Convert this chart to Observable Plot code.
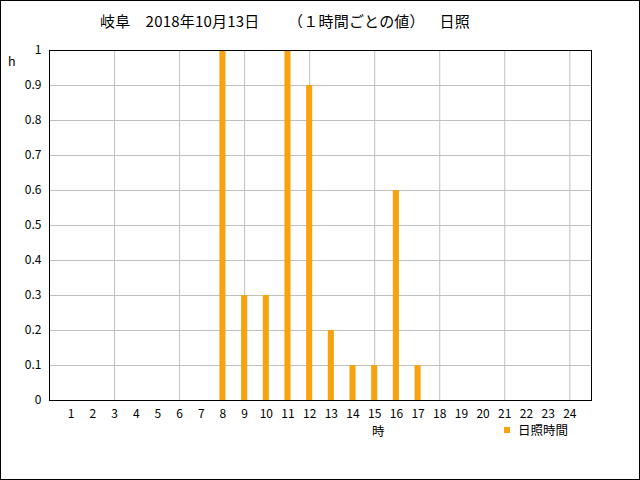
<!DOCTYPE html>
<html><head><meta charset="utf-8">
<script src="https://cdn.jsdelivr.net/npm/d3@7"></script>
<script src="https://cdn.jsdelivr.net/npm/@observablehq/plot@0.6"></script>
<style>
body{margin:0;background:#fff;}
#wrap{position:relative;width:640px;height:480px;overflow:hidden;font-family:"Noto Sans CJK JP",sans-serif;}
#wrap::after{content:"";position:absolute;left:0;top:0;right:0;bottom:0;border:1px solid #000;box-sizing:border-box;pointer-events:none;}
.lbl{position:absolute;font-size:13px;color:#000;white-space:nowrap;line-height:1;}
#title{left:100px;top:13px;font-size:15px;letter-spacing:0.2px;}
#legend{left:504px;top:424px;font-size:12.5px;}
#legend span.sw{display:inline-block;width:6px;height:6px;background:#f7a30f;margin-right:8px;vertical-align:middle;position:relative;top:-2px;}
</style></head>
<body><div id="wrap">
<div class="lbl" id="title">岐阜　2018年10月13日　<span style="margin-left:21px">（１時間ごとの値）</span>　<span style="margin-left:7px">日照</span></div>
<div class="lbl" style="left:8px;top:55px;font-size:12.5px;">h</div>
<div class="lbl" style="left:372px;top:425px;font-size:12.5px;">時</div>
<div class="lbl" id="legend"><span class="sw"></span>日照時間</div>
</div>
<script>
const hours = [1,2,3,4,5,6,7,8,9,10,11,12,13,14,15,16,17,18,19,20,21,22,23,24];
const sunshine = [0,0,0,0,0,0,0,1.0,0.3,0.3,1.0,0.9,0.2,0.1,0.1,0.6,0.1,0,0,0,0,0,0,0];
const xGrid = [3,6,9,12,15,18,21,24];
const yTicks = [0,0.1,0.2,0.3,0.4,0.5,0.6,0.7,0.8,0.9,1];
const yGrid = [0.1,0.2,0.3,0.4,0.5,0.6,0.7,0.8,0.9];

const data = hours.map((h,i)=>({hour:h, value:sunshine[i]}));
const halfW = 0.14;

const chart = Plot.plot({
  width: 640,
  height: 480,
  marginLeft: 49,
  marginRight: 49,
  marginTop: 50,
  marginBottom: 80,
  style: {fontFamily: '"Noto Sans CJK JP", sans-serif', fontSize: "12px", background: "transparent", color:"#000"},
  x: {domain: [0,25], ticks: hours, tickSize: 0, tickPadding: 9, label: null, tickFormat: d=>String(d)},
  y: {domain: [0,1], ticks: yTicks, tickSize: 0, tickPadding: 8, label: null, tickFormat: d=> d===0?"0":d===1?"1":d3.format(".1f")(d)},
  marks: [
    Plot.ruleX(xGrid, {stroke: "#c0c0c0", strokeWidth: 1}),
    Plot.ruleY(yGrid, {stroke: "#c0c0c0", strokeWidth: 1}),
    Plot.rectY(data.filter(d=>d.value>0), {x1: d=>d.hour-halfW, x2: d=>d.hour+halfW, y1: 0, y2: "value", fill: "#f7a30f", inset: 0}),
    Plot.frame({stroke: "#000", strokeWidth: 1})
  ]
});
chart.style.position = "absolute";
chart.style.left = "0";
chart.style.top = "0";
document.getElementById("wrap").prepend(chart);
</script>
</body></html>
